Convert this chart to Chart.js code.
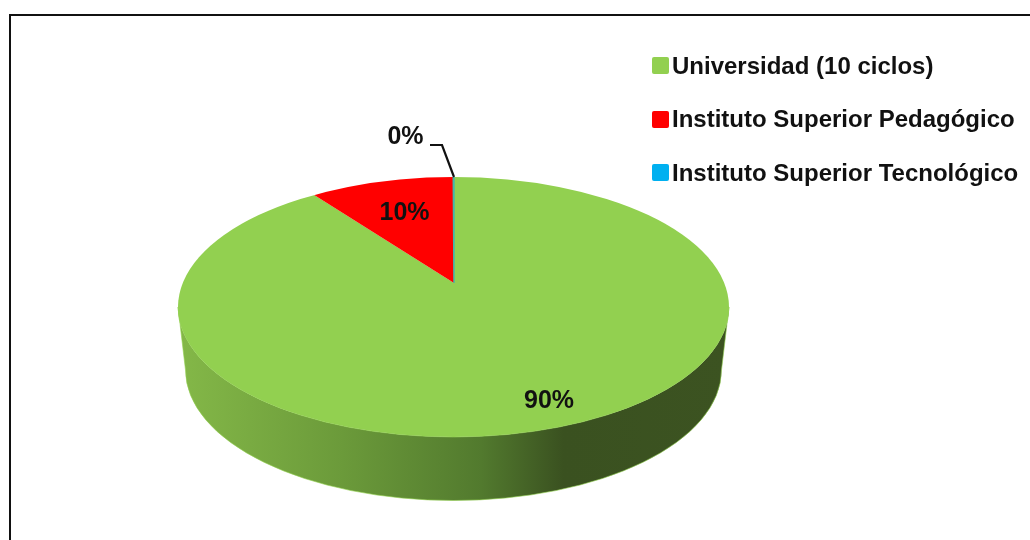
<!DOCTYPE html>
<html>
<head>
<meta charset="utf-8">
<title>Pie 3D</title>
<script src="https://cdn.jsdelivr.net/npm/chart.js@4/dist/chart.umd.js"></script>
<style>
    html, body { margin: 0; padding: 0; background: #fff; overflow: hidden; width: 1030px; height: 540px; }
    #frame { position: absolute; left: 9px; top: 14px; width: 1100px; height: 600px; border: 2.5px solid #111; }
    #chart { position: absolute; left: 0; top: 0; }
    #legend { position: absolute; left: 652px; top: 39px; font: bold 24px "Liberation Sans", Arial, sans-serif; color: #111; }
    .legend-row { display: flex; align-items: center; height: 53.5px; white-space: nowrap; }
    .legend-box { width: 17px; height: 17px; border-radius: 2px; margin-right: 3px; }
</style>
</head>
<body>
<div id="frame"></div>
<canvas id="chart" width="1030" height="540"></canvas>
<div id="legend"></div>
<script>
// Sample data for the pie
const categories = ['Universidad (10 ciclos)', 'Instituto Superior Pedagógico', 'Instituto Superior Tecnológico'];
const shares = [90, 10, 0.05];
const sliceColors = ['#92d050', '#ff0000', '#00b0f0'];

// Text positions of the value labels, same order as the categories
const labelSpots = [[549, 401], [404.5, 213], [405.5, 137]];

// Look of the fake 3D: top ellipse, bottom rim, and the squash of the slices
const topFace = { x: 453.5, y: 307, rx: 275.5, ry: 130 };
const bottomRim = { x: 453.5, y: 370, rx: 268, ry: 130.5 };
const squash = 0.46;

const pie3d = {
    id: 'pie3d',
    beforeDatasetsDraw(chart) {
        const ctx = chart.ctx;
        const arc = chart.getDatasetMeta(0).data[0];

        // side wall
        const side = ctx.createLinearGradient(topFace.x - topFace.rx, 0, topFace.x + topFace.rx, 0);
        side.addColorStop(0, '#84b848');
        side.addColorStop(0.3, '#6b9a3a');
        side.addColorStop(0.55, '#527a2e');
        side.addColorStop(0.7, '#3a5120');
        side.addColorStop(1, '#3c5321');
        ctx.save();
        ctx.beginPath();
        ctx.ellipse(topFace.x, topFace.y, topFace.rx, topFace.ry, 0, Math.PI, 0, true);
        ctx.lineTo(bottomRim.x + bottomRim.rx, bottomRim.y);
        ctx.ellipse(bottomRim.x, bottomRim.y, bottomRim.rx, bottomRim.ry, 0, 0, Math.PI);
        ctx.closePath();
        ctx.fillStyle = side;
        ctx.fill();
        ctx.lineWidth = 1;
        ctx.strokeStyle = 'rgba(146, 208, 80, 0.6)';
        ctx.stroke();
        ctx.restore();

        // slices are clipped to the top ellipse and flattened around their apex
        ctx.save();
        ctx.beginPath();
        ctx.ellipse(topFace.x, topFace.y, topFace.rx, topFace.ry, 0, 0, Math.PI * 2);
        ctx.clip();
        ctx.translate(arc.x, arc.y);
        ctx.scale(1, squash);
        ctx.translate(-arc.x, -arc.y);
    },
    afterDatasetsDraw(chart) {
        const ctx = chart.ctx;
        ctx.restore();

        // leader line of the 0% label
        const arc = chart.getDatasetMeta(0).data[0];
        ctx.save();
        ctx.beginPath();
        ctx.moveTo(430, 145);
        ctx.lineTo(442, 145);
        ctx.lineTo(arc.x, topFace.y - topFace.ry);
        ctx.lineWidth = 2.2;
        ctx.strokeStyle = '#111';
        ctx.stroke();

        ctx.font = 'bold 25px "Liberation Sans", Arial, sans-serif';
        ctx.fillStyle = '#111';
        ctx.textAlign = 'center';
        ctx.textBaseline = 'middle';
        shares.forEach((value, i) => {
            ctx.fillText(`${Math.round(value)}%`, labelSpots[i][0], labelSpots[i][1]);
        });
        ctx.restore();
    }
};

new Chart(document.getElementById('chart'), {
    type: 'pie',
    data: {
        labels: categories,
        datasets: [{
            data: shares,
            backgroundColor: sliceColors,
            borderColor: ['#92d050', '#ff0000', '#45b8a8'],
            borderWidth: [0, 0, 1.5],
            radius: 420,
            clip: false
        }]
    },
    options: {
        responsive: false,
        animation: false,
        layout: { padding: { left: 0, right: 122, top: 26, bottom: 0 } },
        plugins: { legend: { display: false }, tooltip: { enabled: false } }
    },
    plugins: [pie3d]
});

// Legend
const legend = document.getElementById('legend');
categories.forEach((name, i) => {
    const row = document.createElement('div');
    row.className = 'legend-row';
    const box = document.createElement('div');
    box.className = 'legend-box';
    box.style.background = sliceColors[i];
    row.appendChild(box);
    row.appendChild(document.createTextNode(name));
    legend.appendChild(row);
});
</script>
</body>
</html>
